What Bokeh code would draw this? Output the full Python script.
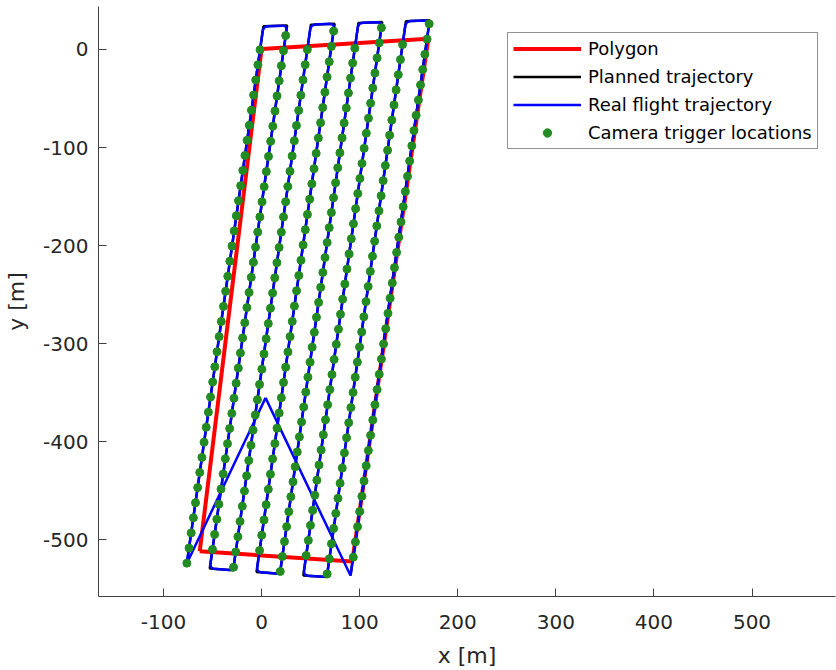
from bokeh.plotting import figure
from bokeh.models import Range1d, Legend, FixedTicker
from bokeh.embed import file_html
from bokeh.resources import INLINE

# ---------------- data (metres) ----------------
poly_x = [-63.0, 0.0, 170.0, 92.5, -63.0]
poly_y = [-511.5, 0.5, 11.0, -522.0, -511.5]

plan_x = [90.8, 171.4, 147.2, 66.5, 42.6, 123.0, 98.8, 18.7, -5.1, 74.5, 50.3, -29.0, -52.8, 26.1, 1.9, -76.3]
plan_y = [-536.0, 29.7, 28.8, -537.8, -536.1, 27.9, 27.1, -534.4, -532.6, 26.2, 25.3, -530.9, -529.1, 24.4, 23.6, -525.0]

real_x = [4.1, 90.7,
          170.8, 170.0, 167.4, 151.2, 148.2, 146.6,
          67.1, 65.5, 62.5, 46.6, 44.0, 43.2,
          122.4, 121.6, 119.0, 102.8, 99.8, 98.2,
          19.3, 17.7, 14.7, -1.1, -3.7, -4.5,
          73.9, 73.1, 70.5, 54.3, 51.3, 49.7,
          -28.4, -30.0, -33.0, -48.8, -51.4, -52.2,
          25.5, 24.7, 22.1, 5.9, 2.9, 1.3,
          -76.2, 4.1]
real_y = [-355.1, -536.2,
          25.7, 28.5, 29.6, 28.9, 27.7, 24.8,
          -533.8, -536.5, -537.5, -536.4, -535.0, -532.1,
          23.9, 26.7, 27.8, 27.2, 26.0, 23.1,
          -530.4, -533.1, -534.1, -532.9, -531.5, -528.6,
          22.2, 25.0, 26.1, 25.4, 24.2, 21.3,
          -526.9, -529.6, -530.6, -529.4, -528.0, -525.1,
          20.4, 23.2, 24.3, 23.7, 22.5, 19.6,
          -524.0, -355.1]

cam1_x = [-1.5, -3.7, -5.9, -8.1, -10.3, -12.5, -14.7, -16.9, -19.1, -21.3, -23.5, -25.7, -27.9, -30.1, -32.3, -34.4, -36.6, -38.8,
          -41.0, -43.2, -45.4, -47.6, -49.8, -52.0, -54.2, -56.4, -58.6, -60.8, -63.0, -65.1, -67.3, -69.5, -71.7, -73.9, -76.1]
cam1_y = [-0.3, -15.7, -31.1, -46.5, -61.9, -77.3, -92.6, -108.0, -123.4, -138.8, -154.2, -169.6, -185.0, -200.4, -215.8, -231.2,
          -246.5, -261.9, -277.3, -292.7, -308.1, -323.5, -338.9, -354.3, -369.7, -385.1, -400.4, -415.8, -431.2, -446.6, -462.0,
          -477.4, -492.8, -508.2, -523.6]

cam2_x = [-50.0, -47.8, -45.6, -43.5, -41.3, -39.1, -36.9, -34.7, -32.5, -30.3, -28.1, -25.9, -23.7, -21.5, -19.3, -17.1, -14.9,
          -12.7, -10.5, -8.3, -6.1, -3.9, -1.7, 0.5, 2.7, 4.9, 7.1, 9.3, 11.5, 13.7, 15.8, 18.0, 20.2, 22.4, 24.6]
cam2_y = [-509.7, -494.3, -478.9, -463.5, -448.1, -432.7, -417.2, -401.8, -386.4, -371.0, -355.6, -340.2, -324.8, -309.4, -294.0,
          -278.5, -263.1, -247.7, -232.3, -216.9, -201.5, -186.1, -170.7, -155.3, -139.9, -124.5, -109.0, -93.6, -78.2, -62.8,
          -47.4, -32.0, -16.6, -1.2, 14.2]

cam3_x = [46.7, 44.5, 42.3, 40.1, 37.9, 35.6, 33.4, 31.2, 29.0, 26.8, 24.6, 22.4, 20.2, 17.9, 15.7, 13.5, 11.3, 9.1, 6.9, 4.7,
          2.5, 0.3, -2.0, -4.2, -6.4, -8.6, -10.8, -13.0, -15.2, -17.4, -19.6, -21.9, -24.1, -26.3, -28.5]
cam3_y = [0.0, -15.5, -31.0, -46.6, -62.1, -77.6, -93.1, -108.6, -124.2, -139.7, -155.2, -170.7, -186.2, -201.8, -217.3, -232.8,
          -248.3, -263.8, -279.4, -294.9, -310.4, -325.9, -341.4, -357.0, -372.5, -388.0, -403.5, -419.0, -434.6, -450.1,
          -465.6, -481.1, -496.6, -512.2, -527.7]

cam4_x = [-2.0, 0.2, 2.5, 4.7, 6.9, 9.1, 11.3, 13.6, 15.8, 18.0, 20.2, 22.4, 24.6, 26.9, 29.1, 31.3, 33.5, 35.7, 38.0, 40.2,
          42.4, 44.6, 46.8, 49.1, 51.3, 53.5, 55.7, 57.9, 60.2, 62.4, 64.6, 66.8, 69.0, 71.2, 73.5]
cam4_y = [-510.7, -495.1, -479.6, -464.0, -448.4, -432.9, -417.3, -401.7, -386.1, -370.6, -355.0, -339.4, -323.9, -308.3,
          -292.7, -277.2, -261.6, -246.0, -230.4, -214.9, -199.3, -183.7, -168.2, -152.6, -137.0, -121.5, -105.9, -90.3,
          -74.7, -59.2, -43.6, -28.0, -12.5, 3.1, 18.7]

cam5_x = [95.1, 92.9, 90.7, 88.6, 86.4, 84.2, 82.1, 79.9, 77.7, 75.5, 73.4, 71.2, 69.0, 66.9, 64.7, 62.5, 60.3, 58.2, 56.0,
          53.8, 51.6, 49.5, 47.3, 45.1, 43.0, 40.8, 38.6, 36.4, 34.3, 32.1, 29.9, 27.8, 25.6, 23.4, 21.2, 19.1]
cam5_y = [1.3, -13.9, -29.2, -44.4, -59.7, -74.9, -90.1, -105.4, -120.6, -135.9, -151.1, -166.3, -181.6, -196.8, -212.1,
          -227.3, -242.5, -257.8, -273.0, -288.3, -303.5, -318.7, -334.0, -349.2, -364.5, -379.7, -394.9, -410.2, -425.4,
          -440.7, -455.9, -471.1, -486.4, -501.6, -516.9, -532.1]

cam6_x = [45.5, 47.7, 49.9, 52.1, 54.3, 56.4, 58.6, 60.8, 63.0, 65.2, 67.4, 69.6, 71.8, 74.0, 76.2, 78.4, 80.5, 82.7, 84.9,
          87.1, 89.3, 91.5, 93.7, 95.9, 98.1, 100.3, 102.4, 104.6, 106.8, 109.0, 111.2, 113.4, 115.6, 117.8, 120.0, 122.2]
cam6_y = [-515.8, -500.4, -485.1, -469.7, -454.3, -439.0, -423.6, -408.2, -392.8, -377.5, -362.1, -346.7, -331.4, -316.0,
          -300.6, -285.2, -269.9, -254.5, -239.1, -223.8, -208.4, -193.0, -177.7, -162.3, -146.9, -131.5, -116.2, -100.8,
          -85.4, -70.1, -54.7, -39.3, -24.0, -8.6, 6.8, 22.1]

cam7_x = [143.8, 141.6, 139.4, 137.2, 135.0, 132.8, 130.6, 128.5, 126.2, 124.0, 121.9, 119.7, 117.5, 115.3, 113.1, 110.9,
          108.7, 106.5, 104.3, 102.1, 99.9, 97.7, 95.5, 93.3, 91.1, 88.9, 86.7, 84.5, 82.3, 80.1, 77.9, 75.7, 73.5, 71.3,
          69.1, 66.9]
cam7_y = [5.1, -10.3, -25.7, -41.2, -56.6, -72.0, -87.4, -102.8, -118.3, -133.7, -149.1, -164.5, -179.9, -195.4, -210.8,
          -226.2, -241.6, -257.0, -272.5, -287.9, -303.3, -318.7, -334.1, -349.6, -365.0, -380.4, -395.8, -411.2, -426.7,
          -442.1, -457.5, -472.9, -488.3, -503.8, -519.2, -534.6]

cam8_x = [93.5, 95.7, 97.9, 100.1, 102.3, 104.5, 106.7, 108.9, 111.2, 113.4, 115.6, 117.8, 120.0, 122.2, 124.4, 126.6,
          128.9, 131.1, 133.3, 135.5, 137.7, 139.9, 142.2, 144.4, 146.6, 148.8, 151.0, 153.2, 155.4, 157.6, 159.9, 162.1,
          164.3, 166.5, 168.7, 170.9]
cam8_y = [-517.5, -502.0, -486.4, -470.9, -455.4, -439.9, -424.3, -408.8, -393.3, -377.7, -362.2, -346.7, -331.1, -315.6,
          -300.1, -284.6, -269.0, -253.5, -238.0, -222.4, -206.9, -191.4, -175.8, -160.3, -144.8, -129.3, -113.7, -98.2,
          -82.7, -67.1, -51.6, -36.1, -20.5, -5.0, 10.5, 26.1]

x_ticks = [-100, 0, 100, 200, 300, 400, 500]
x_tick_labels = ["-100", "0", "100", "200", "300", "400", "500"]
y_ticks = [-500, -400, -300, -200, -100, 0]
y_tick_labels = ["-500", "-400", "-300", "-200", "-100", "0"]

labels = ["Polygon", "Planned trajectory", "Real flight trajectory", "Camera trigger locations"]

cam_x = cam1_x + cam2_x + cam3_x + cam4_x + cam5_x + cam6_x + cam7_x + cam8_x
cam_y = cam1_y + cam2_y + cam3_y + cam4_y + cam5_y + cam6_y + cam7_y + cam8_y

# ---------------- figure ----------------
FONT = "DejaVu Sans"
TXT = "#262626"

p = figure(width=836, height=670,
           x_range=Range1d(-166.2, 585.1), y_range=Range1d(-557.6, 43.8),
           output_backend="svg", toolbar_location=None,
           min_border_left=98, min_border_right=1, min_border_top=6, min_border_bottom=74)

p.background_fill_color = "white"
p.border_fill_color = "white"
p.outline_line_color = None
p.grid.visible = False

r_poly = p.line(poly_x, poly_y, line_color="#ff0000", line_width=4)
r_plan = p.line(plan_x, plan_y, line_color="#000000", line_width=2.5)
r_real = p.line(real_x, real_y, line_color="#0000ff", line_width=2.5)
r_cam = p.scatter(cam_x, cam_y, marker="circle", size=8, fill_color="#228b22", line_color="#228b22")

for ax in (p.xaxis[0], p.yaxis[0]):
    ax.axis_line_color = "#404040"
    ax.axis_line_width = 1
    ax.major_tick_line_color = "#404040"
    ax.major_tick_in = 8
    ax.major_tick_out = 0
    ax.minor_tick_line_color = None
    ax.major_label_text_font = FONT
    ax.major_label_text_font_size = "20px"
    ax.major_label_text_color = TXT
    ax.axis_label_text_font = FONT
    ax.axis_label_text_font_size = "22px"
    ax.axis_label_text_font_style = "normal"
    ax.axis_label_text_color = TXT

p.xaxis.ticker = FixedTicker(ticks=x_ticks)
p.yaxis.ticker = FixedTicker(ticks=y_ticks)
p.xaxis.major_label_overrides = {t: s for t, s in zip(x_ticks, x_tick_labels)}
p.yaxis.major_label_overrides = {t: s for t, s in zip(y_ticks, y_tick_labels)}
p.xaxis.axis_label = "x [m]"
p.yaxis.axis_label = "y [m]"
p.xaxis.major_label_standoff = 18
p.yaxis.major_label_standoff = 10
p.xaxis.axis_label_standoff = 11
p.yaxis.axis_label_standoff = 11

legend = Legend(items=[(labels[0], [r_poly]), (labels[1], [r_plan]),
                       (labels[2], [r_real]), (labels[3], [r_cam])],
                location=(409, 447), margin=0, padding=5, spacing=7,
                glyph_width=68, glyph_height=21, label_height=21, label_standoff=7,
                label_text_font=FONT, label_text_font_size="18px", label_text_color="#000000",
                border_line_color=TXT, border_line_width=1,
                background_fill_color="white", background_fill_alpha=1.0)
p.add_layout(legend)

open("out.html", "w").write(file_html(p, INLINE))
